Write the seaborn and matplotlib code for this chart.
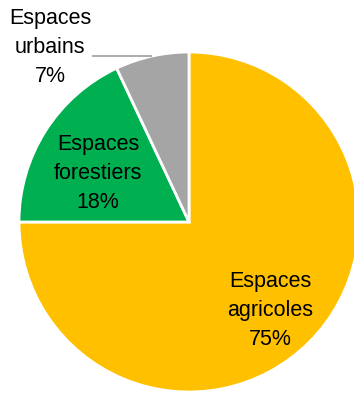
import numpy as np
import matplotlib
matplotlib.use("Agg")
import matplotlib.pyplot as plt
import seaborn as sns

categories = ["Espaces agricoles", "Espaces forestiers", "Espaces urbains"]
values = [75, 18, 7]
colors = ["#FFC000", "#00B050", "#A5A5A5"]

sns.set_theme(style="white")
plt.rcParams["font.family"] = ["Liberation Sans", "DejaVu Sans"]

W, H = 354, 393
fig = plt.figure(figsize=(W / 100, H / 100), dpi=100)
cx, cy, R = 189, 222, 170
ax = fig.add_axes([(cx - R) / W, (H - cy - R) / H, 2 * R / W, 2 * R / H])
ax.pie(values, colors=colors, startangle=90, counterclock=False, radius=1,
       wedgeprops=dict(edgecolor="white", linewidth=2.0))
ax.set_xlim(-1, 1)
ax.set_ylim(-1, 1)
ax.set_aspect("equal")
ax.axis("off")

label_pos = [(0.476, -0.52), (-0.535, 0.288), (-0.818, 1.024)]
for cat, v, (x, y) in zip(categories, values, label_pos):
    a, b = cat.split(" ")
    ax.text(x, y, f"{a}\n{b}\n{v}%", ha="center", va="center", fontsize=15.5,
            color="#000000", linespacing=1.5, clip_on=False)

# leader line for the small slice
ly = 0.976
lx_end = -np.sqrt(1 - ly ** 2)
ax.plot([-0.571, lx_end], [ly, ly], color="#A5A5A5", lw=1.3, clip_on=False,
        solid_capstyle="butt")

fig.savefig("out.png", dpi=100)
